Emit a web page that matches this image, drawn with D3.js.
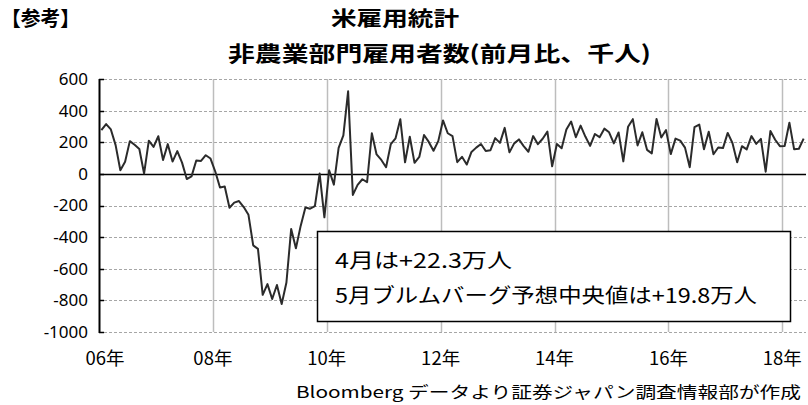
<!DOCTYPE html>
<html>
<head>
<meta charset="utf-8">
<script src="https://cdn.jsdelivr.net/npm/d3@7"></script>
<style>
  html, body { margin: 0; padding: 0; background: #fff; }
  svg { display: block; font-family: "Noto Sans CJK JP", "Noto Sans", sans-serif; }
</style>
</head>
<body>
<div id="chart"></div>
<script>
// 非農業部門雇用者数 前月比（千人）2006年1月〜2018年5月
const v2006 = [277, 315, 281, 182, 23, 77, 207, 184, 157, 2, 210, 171];
const v2007 = [238, 88, 188, 78, 144, 71, -33, -16, 85, 82, 118, 97];
const v2008 = [15, -86, -80, -214, -182, -172, -210, -259, -452, -474, -765, -697];
const v2009 = [-791, -703, -823, -687, -349, -471, -329, -213, -220, -204, 2, -275];
const v2010 = [23, -68, 164, 243, 522, -133, -70, -34, -52, 257, 123, 88];
const v2011 = [42, 188, 225, 346, 73, 235, 70, 107, 246, 202, 146, 207];
const v2012 = [338, 257, 239, 74, 108, 59, 139, 166, 189, 145, 150, 226];
const v2013 = [196, 291, 136, 193, 218, 176, 140, 239, 188, 222, 267, 48];
const v2014 = [189, 162, 280, 331, 232, 305, 236, 177, 252, 232, 286, 263];
const v2015 = [193, 262, 79, 298, 346, 180, 263, 152, 130, 347, 230, 277];
const v2016 = [125, 223, 210, 166, 42, 296, 312, 156, 267, 124, 167, 163];
const v2017 = [259, 195, 73, 175, 155, 239, 190, 221, 14, 271, 216, 175];
const v2018 = [176, 324, 155, 159, 223];

const years = [2006, 2007, 2008, 2009, 2010, 2011, 2012, 2013, 2014, 2015, 2016, 2017, 2018];
const yearValues = [v2006, v2007, v2008, v2009, v2010, v2011, v2012, v2013, v2014, v2015, v2016, v2017, v2018];
const yTicks = [600, 400, 200, 0, -200, -400, -600, -800, -1000];
const xTickLabels = ['06年', '08年', '10年', '12年', '14年', '16年', '18年'];

const dataset = [];
years.forEach((y, i) => {
    yearValues[i].forEach((v, m) => dataset.push({ name: `${y}-${m + 1}`, year: y, month: m + 1, value: v }));
});

// ***************レイアウト*******************
const width = 808;
const height = 405;
const plotLeft = 99;
const plotRight = 806;
const plotTop = 79;
const plotBottom = 332;

const svg = d3.select('#chart').append('svg')
    .attr('width', width)
    .attr('height', height);

const xScale = d3.scaleBand()
    .domain(dataset.map((d) => d.name))
    .range([plotLeft, plotRight])
    .paddingInner(0)
    .paddingOuter(0);

const yScale = d3.scaleLinear()
    .domain([-1000, 600])
    .range([plotBottom, plotTop]);

// 横グリッド（破線）
svg.append('g')
    .selectAll('line')
    .data(yTicks.filter((t) => t !== 0))
    .join('line')
    .attr('x1', plotLeft)
    .attr('x2', plotRight)
    .attr('y1', (d) => Math.round(yScale(d)) + 0.5)
    .attr('y2', (d) => Math.round(yScale(d)) + 0.5)
    .attr('stroke', '#a6a6a6')
    .attr('stroke-width', 1)
    .attr('stroke-dasharray', '3,2');

// 縦グリッド（2年ごと）
const gridNames = dataset.filter((d) => d.month === 1 && (d.year - 2006) % 2 === 0 && d.year !== 2006).map((d) => d.name);
svg.append('g')
    .selectAll('line')
    .data(gridNames)
    .join('line')
    .attr('x1', (d) => Math.round(xScale(d)) + 0.5)
    .attr('x2', (d) => Math.round(xScale(d)) + 0.5)
    .attr('y1', plotTop)
    .attr('y2', plotBottom)
    .attr('stroke', '#bdbdbd')
    .attr('stroke-width', 1.5);

// ゼロ線
svg.append('line')
    .attr('x1', plotLeft)
    .attr('x2', plotRight)
    .attr('y1', Math.round(yScale(0)) + 0.5)
    .attr('y2', Math.round(yScale(0)) + 0.5)
    .attr('stroke', '#000')
    .attr('stroke-width', 1.5);

// Y軸
const yAxis = d3.axisLeft(yScale)
    .tickValues(yTicks)
    .tickSize(0)
    .tickPadding(11)
    .tickFormat((d) => String(d));
const gy = svg.append('g')
    .attr('transform', `translate(${plotLeft},0)`)
    .call(yAxis);
gy.select('.domain').remove();
gy.selectAll('text')
    .attr('font-size', 17)
    .attr('fill', '#000')
    .attr('font-family', '"Noto Sans", "DejaVu Sans", sans-serif');
svg.append('line')
    .attr('x1', plotLeft + 0.5)
    .attr('x2', plotLeft + 0.5)
    .attr('y1', plotTop)
    .attr('y2', plotBottom + 1)
    .attr('stroke', '#000')
    .attr('stroke-width', 2);
svg.append('g')
    .selectAll('line')
    .data(yTicks)
    .join('line')
    .attr('x1', plotLeft)
    .attr('x2', plotLeft + 5)
    .attr('y1', (d) => Math.round(yScale(d)) + 0.5)
    .attr('y2', (d) => Math.round(yScale(d)) + 0.5)
    .attr('stroke', '#000')
    .attr('stroke-width', 1.5);

// X軸ラベル
const labelNames = dataset.filter((d) => d.month === 1 && (d.year - 2006) % 2 === 0).map((d) => d.name);
svg.append('g')
    .selectAll('text')
    .data(labelNames)
    .join('text')
    .attr('x', (d, i) => xScale(d) + (i === 0 ? 6 : 0))
    .attr('y', 365)
    .attr('text-anchor', 'middle')
    .attr('font-size', 18)
    .attr('textLength', 39)
    .attr('lengthAdjust', 'spacingAndGlyphs')
    .attr('fill', '#000')
    .text((d, i) => xTickLabels[i]);

// 折れ線
const linePath = d3.line()
    .x((d) => xScale(d.name) + xScale.bandwidth() / 2)
    .y((d) => yScale(d.value));
svg.append('path')
    .attr('d', linePath(dataset))
    .attr('fill', 'none')
    .attr('stroke', '#2b2b2b')
    .attr('stroke-width', 2)
    .attr('stroke-linejoin', 'round');

// タイトル
svg.append('text')
    .attr('x', 1)
    .attr('y', 26)
    .attr('font-size', 20)
    .attr('font-weight', 'bold')
    .attr('textLength', 79)
    .attr('lengthAdjust', 'spacingAndGlyphs')
    .text('【参考】');
svg.append('text')
    .attr('x', 331)
    .attr('y', 26)
    .attr('font-size', 20)
    .attr('font-weight', 'bold')
    .attr('textLength', 128)
    .attr('lengthAdjust', 'spacingAndGlyphs')
    .text('米雇用統計');
svg.append('text')
    .attr('x', 228)
    .attr('y', 61)
    .attr('font-size', 21)
    .attr('font-weight', 'bold')
    .attr('textLength', 423)
    .attr('lengthAdjust', 'spacingAndGlyphs')
    .text('非農業部門雇用者数(前月比、千人)');

// 注記ボックス
svg.append('rect')
    .attr('x', 317.5)
    .attr('y', 231.5)
    .attr('width', 473)
    .attr('height', 90)
    .attr('fill', '#fff')
    .attr('stroke', '#000')
    .attr('stroke-width', 1.5);
svg.append('text')
    .attr('x', 335)
    .attr('y', 268)
    .attr('font-size', 20)
    .attr('textLength', 177)
    .attr('lengthAdjust', 'spacingAndGlyphs')
    .text('4月は+22.3万人');
svg.append('text')
    .attr('x', 335)
    .attr('y', 303)
    .attr('font-size', 20)
    .attr('textLength', 422)
    .attr('lengthAdjust', 'spacingAndGlyphs')
    .text('5月ブルムバーグ予想中央値は+19.8万人');

// 出所
svg.append('text')
    .attr('x', 296)
    .attr('y', 398)
    .attr('font-size', 16)
    .attr('textLength', 505)
    .attr('lengthAdjust', 'spacingAndGlyphs')
    .text('Bloomberg データより証券ジャパン調査情報部が作成');
</script>
</body>
</html>
